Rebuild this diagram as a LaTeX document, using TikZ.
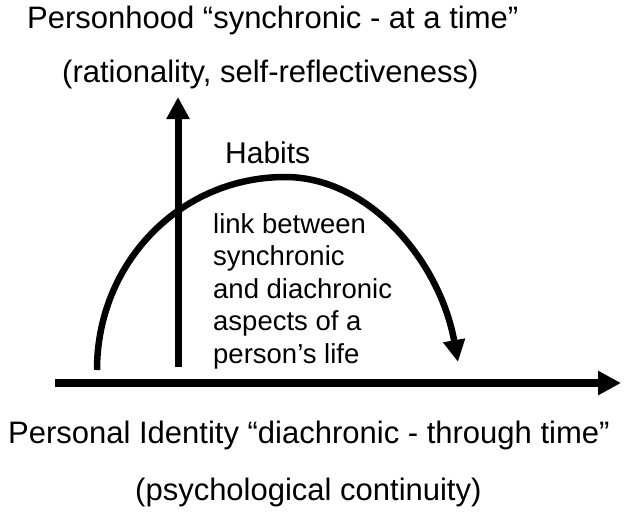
\documentclass[tikz,border=0pt]{standalone}
\usepackage{fontspec}
\setmainfont{Liberation Sans}
\usepackage{tikz}
\usetikzlibrary{arrows.meta,positioning}

\begin{document}
\begin{tikzpicture}[x=1pt,y=-1pt,>={Triangle[length=23pt,width=23pt]},
                    line cap=butt]
  \tikzstyle{bigtext}=[anchor=base west,inner sep=0pt,font=\fontsize{31}{36}\selectfont]
  \tikzstyle{midtext}=[anchor=base west,inner sep=0pt,font=\fontsize{30}{34}\selectfont]
  \tikzstyle{smalltext}=[anchor=north west,inner sep=0pt,align=left,font=\fontsize{27.5}{32.5}\selectfont]

  \useasboundingbox (0,0) rectangle (630,515);

  \coordinate (origin)  at (55,383);
  \coordinate (timeend) at (621,383);
  \coordinate (vbase)   at (178,367);
  \coordinate (vtop)    at (178,97);
  \coordinate (hstart)  at (97,370);
  \coordinate (hpeak)   at (285,177);
  \coordinate (hend)    at (458,362);

  \node[bigtext] (person)   at (27,28)   {Personhood “synchronic - at a time”};
  \node[bigtext] (reason)   at (62,82)   {(rationality, self-reflectiveness)};
  \node[bigtext] (identity) at (8,443)   {Personal Identity “diachronic - through time”};
  \node[bigtext] (psych)    at (135,500) {(psychological continuity)};
  \node[midtext] (habits)   at (225,163) {Habits};
  \node[smalltext] (link)   at (213,213) {link between\\synchronic\\and diachronic\\aspects of a\\person’s life};

  % the two axes
  \draw[->,line width=8pt] (origin) -- (timeend);
  \draw[->,line width=7pt,>={Triangle[length=22pt,width=22pt]}] (vbase) -- (vtop);

  % habits arc
  \draw[->,line width=6.5pt,>={Triangle[length=22pt,width=21pt]}]
        (hstart) .. controls (97,263) and (180,177) .. (hpeak)
                 .. controls (370,177) and (440,262) .. (hend);
\end{tikzpicture}
\end{document}
